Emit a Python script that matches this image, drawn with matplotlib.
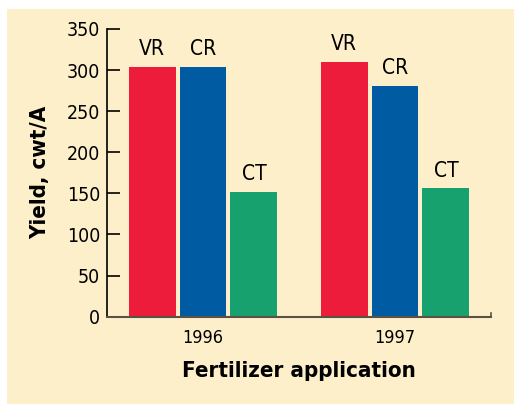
"""
Yield by fertilizer application, grouped bars.
"""

import numpy as np
import matplotlib
matplotlib.use("Agg")
import matplotlib.pyplot as plt

years = ["1996", "1997"]
treatments = ["VR", "CR", "CT"]
vr_yield = [304, 310]
cr_yield = [304, 281]
ct_yield = [152, 156]

colors = ["#ED1C3A", "#005BA3", "#17A16F"]
cream = "#FDEFCA"

plt.rcParams['font.family'] = ['DejaVu Sans']
plt.rcParams['font.stretch'] = 'condensed'

fig = plt.figure(figsize=(5.14, 4.04), dpi=100)
fig.patch.set_facecolor("white")
# cream panel (leaves a white strip at top and left)
fig.patches.append(plt.Rectangle((7/514, 0), 1, 1 - 9/404, transform=fig.transFigure,
                                 facecolor=cream, edgecolor="none", zorder=-1))

ax = fig.add_axes([107/514, 1 - 316.7/404, 384/514, (316.7 - 29)/404])
ax.set_facecolor("none")

x = np.arange(len(years))
width = 0.244
step = 0.265
series = [vr_yield, cr_yield, ct_yield]
for i, (name, vals) in enumerate(zip(treatments, series)):
    pos = x + (i - 1) * step
    ax.bar(pos, vals, width, color=colors[i], edgecolor="none", zorder=2)
    for p, v in zip(pos, vals):
        ax.text(p, v + 9, name, ha="center", va="bottom", fontsize=15)

ax.set_xlim(-0.5, 1.5)
ax.set_ylim(0, 350)
ax.set_yticks(np.arange(0, 351, 50))
ax.set_xticks(x)
ax.set_xticklabels(years)
ax.tick_params(axis="y", direction="in", length=9, width=1.2, labelsize=14, pad=5, color="black")
ax.tick_params(axis="x", length=0, labelsize=13, pad=9)

for s in ["top", "right"]:
    ax.spines[s].set_visible(False)
ax.spines["left"].set_linewidth(1.2)
ax.spines["bottom"].set_linewidth(1.5)
ax.spines["bottom"].set_color("#5A5245")
ax.spines["bottom"].set_zorder(3)
# small end tick at the right of the x axis
ax.plot([1, 1], [0, 0.012], transform=ax.transAxes, color="#5A5245", lw=1.2, clip_on=False)

ax.set_ylabel("Yield, cwt/A", fontsize=16, fontweight="bold", labelpad=12)
ax.set_xlabel("Fertilizer application", fontsize=16, fontweight="bold", labelpad=10)

fig.savefig("out.png", dpi=100, facecolor=fig.get_facecolor())
